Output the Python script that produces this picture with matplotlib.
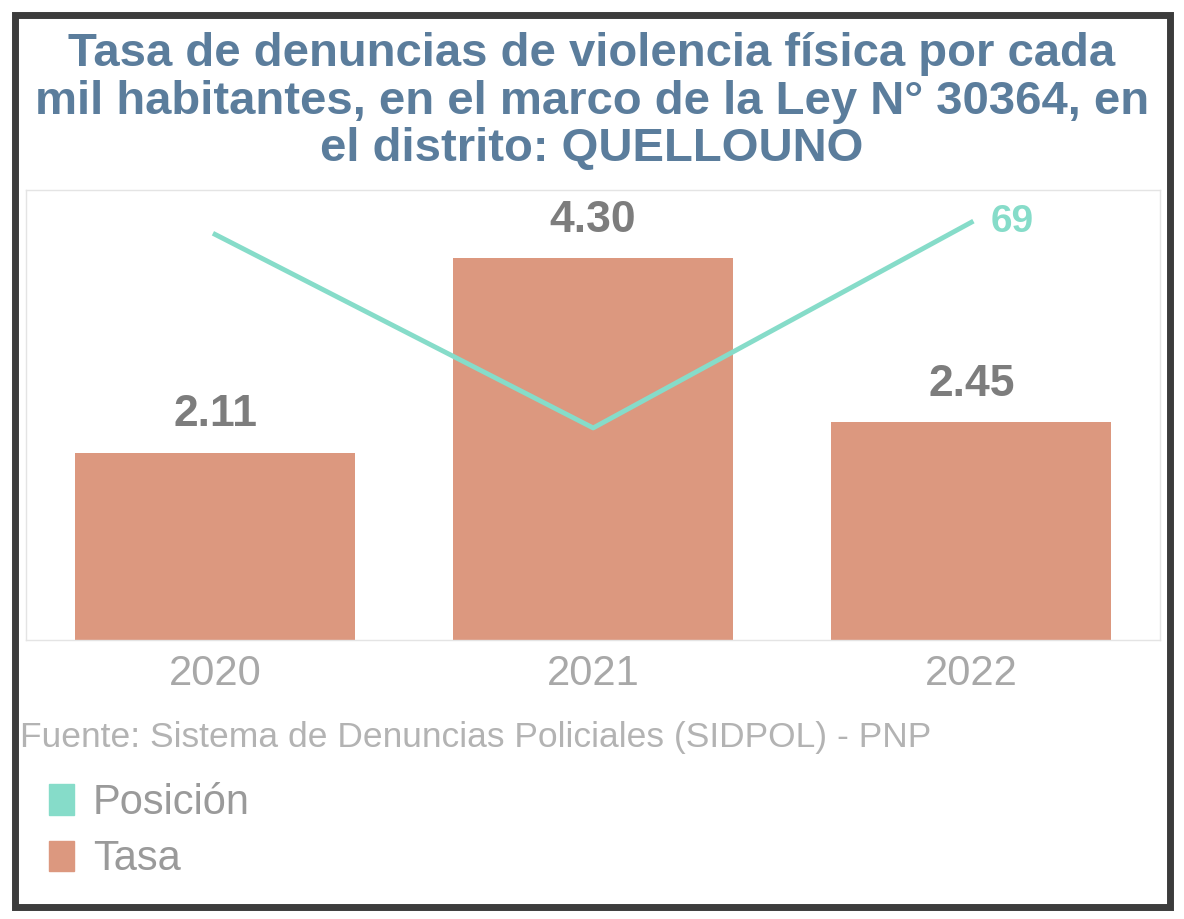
import matplotlib.pyplot as plt
from matplotlib.patches import Patch, Rectangle

# data
years = ["2020", "2021", "2022"]
tasa = [2.11, 4.30, 2.45]
posicion = [67, 35, 69]

bar_color = "#dc987f"
line_color = "#86dcc9"
title_color = "#5b7d9c"

plt.rcParams["font.family"] = ["Liberation Sans", "DejaVu Sans"]

fig = plt.figure(figsize=(11.84, 9.19), dpi=100)

# dark frame of the scanned page
fig.patches.append(Rectangle((0.013, 0.013), 0.975, 0.971, transform=fig.transFigure,
                             fill=False, edgecolor="#3c3c3c", linewidth=5))

fig.text(0.5, 0.965, "Tasa de denuncias de violencia física por cada\n"
         "mil habitantes, en el marco de la Ley N° 30364, en\n"
         "el distrito: QUELLOUNO",
         ha="center", va="top", fontsize=34, fontweight="bold",
         color=title_color, linespacing=1.1)

ax = fig.add_axes([0.022, 0.304, 0.958, 0.489])
x = range(len(years))
ax.bar(x, tasa, width=0.74, color=bar_color)
ax.set_xlim(-0.5, 2.5)
ax.set_ylim(0, 5.07)
for xi, v in zip(x, tasa):
    ax.text(xi, v + 0.2, f"{v:.2f}", ha="center", va="bottom", fontsize=32,
            fontweight="bold", color="#7d7d7d")

ax.set_xticks(list(x))
ax.set_xticklabels(years, fontsize=30, color="#a8a8a8")
ax.tick_params(axis="x", length=0, pad=10)
ax.set_yticks([])
for side in ["top", "right", "left", "bottom"]:
    ax.spines[side].set_color("#e4e4e4")
    ax.spines[side].set_linewidth(1)

ax2 = ax.twinx()
ax2.plot(list(x), posicion, color=line_color, linewidth=3.5)
ax2.set_ylim(0, 74.3)
ax2.set_yticks([])
for side in ["top", "right", "left", "bottom"]:
    ax2.spines[side].set_visible(False)
ax2.text(2 + 0.05, posicion[2], f"{posicion[2]}", ha="left", va="center",
         fontsize=28, fontweight="bold", color=line_color)

fig.text(0.017, 0.198, "Fuente: Sistema de Denuncias Policiales (SIDPOL) - PNP",
         ha="left", va="center", fontsize=25.5, color="#b3b3b3")

handles = [Patch(facecolor=line_color, edgecolor=line_color),
           Patch(facecolor=bar_color, edgecolor=bar_color)]
fig.legend(handles, ["Posición", "Tasa"], loc="upper left",
           bbox_to_anchor=(0.01, 0.189), frameon=False,
           handlelength=0.6, handleheight=0.75, handletextpad=0.45,
           labelspacing=0.4, labelcolor="#9a9a9a",
           prop={"size": 30})

fig.savefig("out.png", dpi=100, facecolor="white")
